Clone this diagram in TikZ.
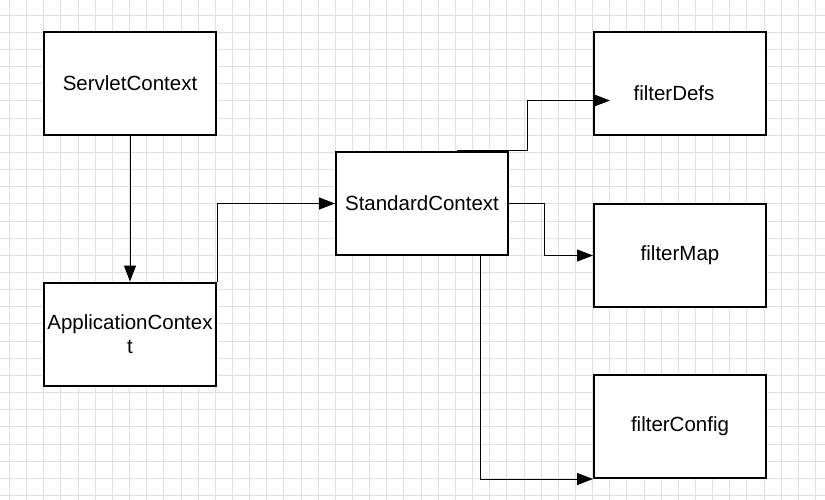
\documentclass[tikz,border=0pt]{standalone}
\usepackage{fontspec}
\setmainfont{Liberation Sans}
\usetikzlibrary{arrows.meta,calc}
\begin{document}
\begin{tikzpicture}[x=1pt,y=-1pt,
  box/.style={draw=black,line width=2pt,fill=white,minimum width=172pt,minimum height=103pt,inner sep=0pt,font=\fontsize{20.5}{23.5}\selectfont,align=center},
  lbl/.style={inner sep=0pt,font=\fontsize{20.5}{23.5}\selectfont},
  conn/.style={draw=black,line width=1pt,-{Triangle[length=16pt,width=12pt]}},
  gridline/.style={draw={rgb,255:red,224;green,224;blue,224},line width=1pt}]
\useasboundingbox (0,0) rectangle (825,500);
\fill[white] (0,0) rectangle (825,500);
\foreach \i in {0,...,47} {\draw[gridline] (9.5+17.15*\i,0) -- (9.5+17.15*\i,500);}
\foreach \j in {0,...,28} {\draw[gridline] (0,15.25+17.15*\j) -- (825,15.25+17.15*\j);}
\node[box] (servlet) at (130,83.5) {ServletContext};
\node[box] (app) at (130,334) {ApplicationContex\\t};
\node[box] (std) at (422,203.5) {StandardContext};
\node[box] (defs) at (680,83.5) {};
\node[lbl] (defslbl) at ($(defs.center)+(-6,9.5)$) {filterDefs};
\node[box] (map) at (680,255.5) {filterMap};
\node[box] (config) at (680,426.5) {filterConfig};
\draw[conn] (servlet) -- (app);
\draw[conn] (app.north east) |- (std.west);
\draw[conn] ($(std.north)+(35,0)$) -- ($(std.north east)+(18,0)$) |- ($(defs.west)+(17,17)$);
\draw[conn] (std.east) -- ++(35,0) |- (map.west);
\draw[conn] ($(std.south)+(58,0)$) |- (config.south west);
\end{tikzpicture}
\end{document}
